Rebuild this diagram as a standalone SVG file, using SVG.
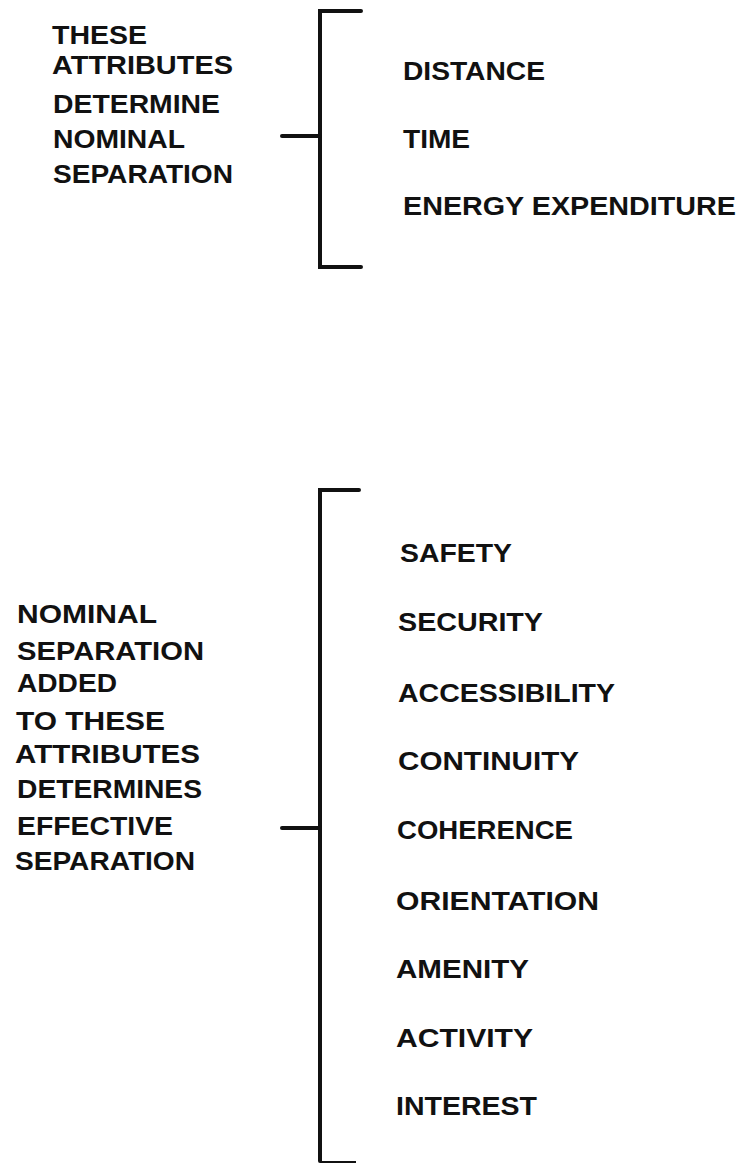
<svg xmlns="http://www.w3.org/2000/svg" width="744" height="1164" viewBox="0 0 744 1164">
<style>
text{font-family:"Liberation Sans",Arial,sans-serif;font-weight:bold;font-size:25px;fill:#111;}
.big{font-size:26px;}
.br{fill:none;stroke:#111;stroke-width:4;stroke-linecap:round;stroke-linejoin:miter;}
.thin{fill:none;stroke:#111;stroke-width:2;}
</style>
<rect width="744" height="1164" fill="#fff"/>
<g id="connectors">
<path class="br" d="M361,11 H320 V267 H361"/>
<path class="br" d="M282,136 H320"/>
<path class="br" d="M359,490 H320 V1161"/>
<path class="thin" d="M320,1162 H356"/>
<path class="br" d="M282,828 H320"/>
</g>
<g id="nominal-label">
<text class="big" x="52" y="44" textLength="95" lengthAdjust="spacingAndGlyphs">THESE</text>
<text class="big" x="52" y="74" textLength="181" lengthAdjust="spacingAndGlyphs">ATTRIBUTES</text>
<text x="53" y="113" textLength="167" lengthAdjust="spacingAndGlyphs">DETERMINE</text>
<text x="53" y="148" textLength="132" lengthAdjust="spacingAndGlyphs">NOMINAL</text>
<text x="53" y="183" textLength="180" lengthAdjust="spacingAndGlyphs">SEPARATION</text>
</g>
<g id="nominal-attributes">
<text x="403" y="80" textLength="142" lengthAdjust="spacingAndGlyphs">DISTANCE</text>
<text x="403" y="148" textLength="67" lengthAdjust="spacingAndGlyphs">TIME</text>
<text x="403" y="215" textLength="333" lengthAdjust="spacingAndGlyphs">ENERGY EXPENDITURE</text>
</g>
<g id="effective-label">
<text x="17" y="623" textLength="140" lengthAdjust="spacingAndGlyphs">NOMINAL</text>
<text x="17" y="660" textLength="187" lengthAdjust="spacingAndGlyphs">SEPARATION</text>
<text x="17" y="692" textLength="100" lengthAdjust="spacingAndGlyphs">ADDED</text>
<text x="16" y="730" textLength="149" lengthAdjust="spacingAndGlyphs">TO  THESE</text>
<text x="15" y="763" textLength="185" lengthAdjust="spacingAndGlyphs">ATTRIBUTES</text>
<text x="17" y="798" textLength="185" lengthAdjust="spacingAndGlyphs">DETERMINES</text>
<text x="17" y="835" textLength="156" lengthAdjust="spacingAndGlyphs">EFFECTIVE</text>
<text x="15" y="870" textLength="180" lengthAdjust="spacingAndGlyphs">SEPARATION</text>
</g>
<g id="effective-attributes">
<text x="400" y="562" textLength="112" lengthAdjust="spacingAndGlyphs">SAFETY</text>
<text x="398" y="631" textLength="145" lengthAdjust="spacingAndGlyphs">SECURITY</text>
<text x="398" y="702" textLength="217" lengthAdjust="spacingAndGlyphs">ACCESSIBILITY</text>
<text x="398" y="770" textLength="181" lengthAdjust="spacingAndGlyphs">CONTINUITY</text>
<text x="397" y="839" textLength="176" lengthAdjust="spacingAndGlyphs">COHERENCE</text>
<text x="396" y="910" textLength="203" lengthAdjust="spacingAndGlyphs">ORIENTATION</text>
<text x="396" y="978" textLength="133" lengthAdjust="spacingAndGlyphs">AMENITY</text>
<text x="396" y="1047" textLength="137" lengthAdjust="spacingAndGlyphs">ACTIVITY</text>
<text x="396" y="1115" textLength="141" lengthAdjust="spacingAndGlyphs">INTEREST</text>
</g>
</svg>
